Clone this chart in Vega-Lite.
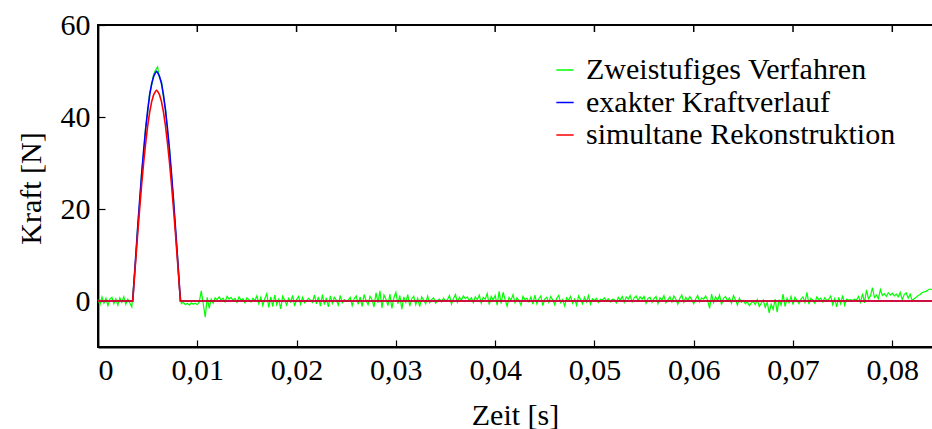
{
  "$schema": "https://vega.github.io/schema/vega-lite/v6.json",
  "width": 836,
  "height": 322,
  "autosize": {"type": "none"},
  "padding": {"left": 98, "top": 25, "right": 0, "bottom": 82},
  "background": "white",
  "config": {
    "view": {"stroke": "black", "strokeWidth": 2},
    "font": "Liberation Serif",
    "axis": {
      "labelFont": "Liberation Serif",
      "titleFont": "Liberation Serif",
      "labelFontSize": 30,
      "titleFontSize": 30,
      "titleFontWeight": "normal",
      "labelColor": "black",
      "titleColor": "black",
      "domainColor": "black",
      "domainWidth": 1.8,
      "tickColor": "black",
      "tickWidth": 1.2,
      "tickSize": -7,
      "grid": false
    }
  },
  "datasets": {
    "topticks": [{"t":0.01},{"t":0.02},{"t":0.03},{"t":0.04},{"t":0.05},{"t":0.06},{"t":0.07},{"t":0.08}],
    "green": [
      {"t":0.0000,"f":0.3},{"t":0.0002,"f":-0.8},{"t":0.0004,"f":0.9},{"t":0.0006,"f":-0.5},{"t":0.0008,"f":0.6},{"t":0.0010,"f":-1.0},{"t":0.0012,"f":0.4},{"t":0.0014,"f":0.8},{"t":0.0016,"f":-0.6},{"t":0.0018,"f":0.5},
      {"t":0.0020,"f":-0.9},{"t":0.0022,"f":0.7},{"t":0.0024,"f":-0.3},{"t":0.0026,"f":0.9},{"t":0.0028,"f":-0.7},{"t":0.0030,"f":0.4},{"t":0.0032,"f":-0.4},{"t":0.0034,"f":-1.3},{"t":0.0036,"f":3.8},{"t":0.0038,"f":9.2},
      {"t":0.0040,"f":16.5},{"t":0.0042,"f":21.4},{"t":0.0044,"f":28.3},{"t":0.0046,"f":32.2},{"t":0.0048,"f":37.9},{"t":0.0050,"f":41.0},{"t":0.0052,"f":45.3},{"t":0.0054,"f":46.8},{"t":0.0056,"f":49.3},{"t":0.0058,"f":50.2},
      {"t":0.0060,"f":50.9},{"t":0.0062,"f":48.4},{"t":0.0064,"f":47.8},{"t":0.0066,"f":44.2},{"t":0.0068,"f":41.9},{"t":0.0070,"f":37.0},{"t":0.0072,"f":33.4},{"t":0.0074,"f":27.2},{"t":0.0076,"f":22.5},{"t":0.0078,"f":15.6},
      {"t":0.0080,"f":10.2},{"t":0.0082,"f":2.8},{"t":0.0084,"f":-0.6},{"t":0.0086,"f":-0.3},{"t":0.0088,"f":-0.8},{"t":0.0090,"f":-0.5},{"t":0.0092,"f":-0.9},{"t":0.0094,"f":-0.4},{"t":0.0096,"f":-0.7},{"t":0.0098,"f":-0.5},
      {"t":0.0100,"f":-0.8},{"t":0.0102,"f":-0.2},{"t":0.0104,"f":2.2},{"t":0.0106,"f":-0.6},{"t":0.0108,"f":-3.5},{"t":0.0110,"f":0.8},{"t":0.0112,"f":-1.6},{"t":0.0114,"f":0.4},{"t":0.0116,"f":-0.5},{"t":0.0118,"f":0.7},
      {"t":0.0120,"f":0.3},{"t":0.0122,"f":0.9},{"t":0.0124,"f":0.2},{"t":0.0126,"f":0.6},{"t":0.0128,"f":-0.2},{"t":0.0130,"f":1.0},{"t":0.0132,"f":0.4},{"t":0.0134,"f":0.8},{"t":0.0136,"f":0.1},{"t":0.0138,"f":0.6},
      {"t":0.0140,"f":-0.3},{"t":0.0142,"f":0.9},{"t":0.0144,"f":0.2},{"t":0.0146,"f":0.5},{"t":0.0148,"f":-0.4},{"t":0.0150,"f":0.7},{"t":0.0152,"f":0.3},{"t":0.0154,"f":-0.2},{"t":0.0156,"f":0.6},{"t":0.0158,"f":0.1},
      {"t":0.0160,"f":1.1},{"t":0.0162,"f":-0.6},{"t":0.0164,"f":0.8},{"t":0.0166,"f":-1.0},{"t":0.0168,"f":0.5},{"t":0.0170,"f":1.6},{"t":0.0172,"f":-1.4},{"t":0.0174,"f":0.9},{"t":0.0176,"f":-1.2},{"t":0.0178,"f":1.3},
      {"t":0.0180,"f":-0.8},{"t":0.0182,"f":0.4},{"t":0.0184,"f":-1.7},{"t":0.0186,"f":1.0},{"t":0.0188,"f":0.2},{"t":0.0190,"f":-0.9},{"t":0.0192,"f":0.6},{"t":0.0194,"f":-0.2},{"t":0.0196,"f":1.2},{"t":0.0198,"f":-1.1},
      {"t":0.0200,"f":0.3},{"t":0.0202,"f":1.0},{"t":0.0204,"f":-0.7},{"t":0.0206,"f":0.8},{"t":0.0208,"f":-0.4},{"t":0.0210,"f":0.1},{"t":0.0212,"f":0.6},{"t":0.0214,"f":0.2},{"t":0.0216,"f":-0.3},{"t":0.0218,"f":1.3},
      {"t":0.0220,"f":-0.6},{"t":0.0222,"f":0.9},{"t":0.0224,"f":-1.1},{"t":0.0226,"f":1.4},{"t":0.0228,"f":-0.8},{"t":0.0230,"f":0.7},{"t":0.0232,"f":-1.3},{"t":0.0234,"f":1.1},{"t":0.0236,"f":-0.5},{"t":0.0238,"f":0.8},
      {"t":0.0240,"f":0.2},{"t":0.0242,"f":-0.9},{"t":0.0244,"f":1.2},{"t":0.0246,"f":-0.4},{"t":0.0248,"f":0.3},{"t":0.0250,"f":-0.1},{"t":0.0252,"f":0.2},{"t":0.0254,"f":0.8},{"t":0.0256,"f":-1.0},{"t":0.0258,"f":0.5},
      {"t":0.0260,"f":1.1},{"t":0.0262,"f":-0.7},{"t":0.0264,"f":0.9},{"t":0.0266,"f":-1.2},{"t":0.0268,"f":1.4},{"t":0.0270,"f":0.1},{"t":0.0272,"f":-0.8},{"t":0.0274,"f":1.0},{"t":0.0276,"f":0.3},{"t":0.0278,"f":-1.3},
      {"t":0.0280,"f":1.8},{"t":0.0282,"f":-0.4},{"t":0.0284,"f":2.2},{"t":0.0286,"f":-1.5},{"t":0.0288,"f":1.3},{"t":0.0290,"f":0.4},{"t":0.0292,"f":-1.0},{"t":0.0294,"f":1.5},{"t":0.0296,"f":-1.6},{"t":0.0298,"f":0.7},
      {"t":0.0300,"f":1.9},{"t":0.0302,"f":-0.6},{"t":0.0304,"f":1.2},{"t":0.0306,"f":-1.8},{"t":0.0308,"f":0.9},{"t":0.0310,"f":-0.3},{"t":0.0312,"f":1.4},{"t":0.0314,"f":-1.1},{"t":0.0316,"f":0.5},{"t":0.0318,"f":1.0},
      {"t":0.0320,"f":-0.8},{"t":0.0322,"f":0.6},{"t":0.0324,"f":-1.2},{"t":0.0326,"f":0.9},{"t":0.0328,"f":0.2},{"t":0.0330,"f":-0.6},{"t":0.0332,"f":1.1},{"t":0.0334,"f":-0.4},{"t":0.0336,"f":0.3},{"t":0.0338,"f":0.7},
      {"t":0.0340,"f":-0.5},{"t":0.0342,"f":0.1},{"t":0.0344,"f":0.4},{"t":0.0346,"f":-0.2},{"t":0.0348,"f":0.6},{"t":0.0350,"f":0.0},{"t":0.0352,"f":0.3},{"t":0.0354,"f":1.2},{"t":0.0356,"f":-0.7},{"t":0.0358,"f":0.5},
      {"t":0.0360,"f":1.4},{"t":0.0362,"f":-0.3},{"t":0.0364,"f":0.8},{"t":0.0366,"f":0.2},{"t":0.0368,"f":1.1},{"t":0.0370,"f":0.5},{"t":0.0372,"f":0.9},{"t":0.0374,"f":0.1},{"t":0.0376,"f":0.7},{"t":0.0378,"f":-0.4},
      {"t":0.0380,"f":0.9},{"t":0.0382,"f":0.3},{"t":0.0384,"f":1.3},{"t":0.0386,"f":-0.5},{"t":0.0388,"f":0.8},{"t":0.0390,"f":0.4},{"t":0.0392,"f":1.6},{"t":0.0394,"f":-0.8},{"t":0.0396,"f":1.0},{"t":0.0398,"f":0.2},
      {"t":0.0400,"f":1.2},{"t":0.0402,"f":-0.9},{"t":0.0404,"f":2.1},{"t":0.0406,"f":-0.6},{"t":0.0408,"f":1.9},{"t":0.0410,"f":0.3},{"t":0.0412,"f":-1.1},{"t":0.0414,"f":0.8},{"t":0.0416,"f":0.2},{"t":0.0418,"f":1.4},
      {"t":0.0420,"f":-0.4},{"t":0.0422,"f":0.7},{"t":0.0424,"f":0.1},{"t":0.0426,"f":-0.9},{"t":0.0428,"f":1.0},{"t":0.0430,"f":0.3},{"t":0.0432,"f":0.6},{"t":0.0434,"f":-0.2},{"t":0.0436,"f":0.9},{"t":0.0438,"f":-0.7},
      {"t":0.0440,"f":1.3},{"t":0.0442,"f":-0.6},{"t":0.0444,"f":0.5},{"t":0.0446,"f":1.1},{"t":0.0448,"f":-1.0},{"t":0.0450,"f":0.4},{"t":0.0452,"f":0.8},{"t":0.0454,"f":-0.3},{"t":0.0456,"f":1.0},{"t":0.0458,"f":0.2},
      {"t":0.0460,"f":-0.8},{"t":0.0462,"f":0.6},{"t":0.0464,"f":1.2},{"t":0.0466,"f":-0.4},{"t":0.0468,"f":0.3},{"t":0.0470,"f":-1.1},{"t":0.0472,"f":0.7},{"t":0.0474,"f":0.2},{"t":0.0476,"f":1.0},{"t":0.0478,"f":-0.5},
      {"t":0.0480,"f":0.4},{"t":0.0482,"f":-0.9},{"t":0.0484,"f":1.1},{"t":0.0486,"f":0.3},{"t":0.0488,"f":-0.6},{"t":0.0490,"f":0.8},{"t":0.0492,"f":-0.2},{"t":0.0494,"f":1.2},{"t":0.0496,"f":-0.7},{"t":0.0498,"f":0.5},
      {"t":0.0500,"f":0.1},{"t":0.0502,"f":0.6},{"t":0.0504,"f":-0.3},{"t":0.0506,"f":0.4},{"t":0.0508,"f":0.2},{"t":0.0510,"f":0.7},{"t":0.0512,"f":0.0},{"t":0.0514,"f":0.5},{"t":0.0516,"f":-0.2},{"t":0.0518,"f":0.4},
      {"t":0.0520,"f":0.3},{"t":0.0522,"f":-0.4},{"t":0.0524,"f":0.8},{"t":0.0526,"f":0.2},{"t":0.0528,"f":1.0},{"t":0.0530,"f":-0.3},{"t":0.0532,"f":0.9},{"t":0.0534,"f":0.4},{"t":0.0536,"f":1.2},{"t":0.0538,"f":-0.2},
      {"t":0.0540,"f":0.7},{"t":0.0542,"f":1.1},{"t":0.0544,"f":0.1},{"t":0.0546,"f":0.9},{"t":0.0548,"f":0.4},{"t":0.0550,"f":1.0},{"t":0.0552,"f":-0.5},{"t":0.0554,"f":0.6},{"t":0.0556,"f":0.8},{"t":0.0558,"f":-0.3},
      {"t":0.0560,"f":0.5},{"t":0.0562,"f":1.0},{"t":0.0564,"f":-0.6},{"t":0.0566,"f":0.7},{"t":0.0568,"f":0.2},{"t":0.0570,"f":1.2},{"t":0.0572,"f":-0.4},{"t":0.0574,"f":0.3},{"t":0.0576,"f":0.9},{"t":0.0578,"f":-0.2},
      {"t":0.0580,"f":1.1},{"t":0.0582,"f":0.4},{"t":0.0584,"f":-0.7},{"t":0.0586,"f":0.6},{"t":0.0588,"f":1.3},{"t":0.0590,"f":-0.3},{"t":0.0592,"f":0.8},{"t":0.0594,"f":0.1},{"t":0.0596,"f":1.0},{"t":0.0598,"f":0.3},
      {"t":0.0600,"f":-0.6},{"t":0.0602,"f":0.5},{"t":0.0604,"f":1.2},{"t":0.0606,"f":-0.2},{"t":0.0608,"f":0.7},{"t":0.0610,"f":0.4},{"t":0.0612,"f":1.1},{"t":0.0614,"f":0.2},{"t":0.0616,"f":-1.6},{"t":0.0618,"f":1.5},
      {"t":0.0620,"f":-0.4},{"t":0.0622,"f":0.9},{"t":0.0624,"f":0.1},{"t":0.0626,"f":1.3},{"t":0.0628,"f":-0.8},{"t":0.0630,"f":0.6},{"t":0.0632,"f":1.0},{"t":0.0634,"f":0.0},{"t":0.0636,"f":0.7},{"t":0.0638,"f":-0.5},
      {"t":0.0640,"f":1.2},{"t":0.0642,"f":0.3},{"t":0.0644,"f":-0.9},{"t":0.0646,"f":0.6},{"t":0.0648,"f":-0.3},{"t":0.0650,"f":0.1},{"t":0.0652,"f":-0.6},{"t":0.0654,"f":-0.2},{"t":0.0656,"f":-1.0},{"t":0.0658,"f":-0.4},
      {"t":0.0660,"f":-0.1},{"t":0.0662,"f":-0.8},{"t":0.0664,"f":0.3},{"t":0.0666,"f":-1.2},{"t":0.0668,"f":-0.5},{"t":0.0670,"f":0.2},{"t":0.0672,"f":-1.4},{"t":0.0674,"f":-0.3},{"t":0.0676,"f":-2.6},{"t":0.0678,"f":-0.7},
      {"t":0.0680,"f":-1.8},{"t":0.0682,"f":0.4},{"t":0.0684,"f":-2.4},{"t":0.0686,"f":0.3},{"t":0.0688,"f":-0.9},{"t":0.0690,"f":1.5},{"t":0.0692,"f":-1.2},{"t":0.0694,"f":0.6},{"t":0.0696,"f":-0.4},{"t":0.0698,"f":1.0},
      {"t":0.0700,"f":-0.8},{"t":0.0702,"f":0.8},{"t":0.0704,"f":0.1},{"t":0.0706,"f":-0.6},{"t":0.0708,"f":0.4},{"t":0.0710,"f":0.9},{"t":0.0712,"f":-0.3},{"t":0.0714,"f":1.9},{"t":0.0716,"f":-0.7},{"t":0.0718,"f":0.6},
      {"t":0.0720,"f":0.2},{"t":0.0722,"f":-0.5},{"t":0.0724,"f":0.9},{"t":0.0726,"f":0.3},{"t":0.0728,"f":0.6},{"t":0.0730,"f":-0.2},{"t":0.0732,"f":0.7},{"t":0.0734,"f":0.1},{"t":0.0736,"f":0.4},{"t":0.0738,"f":1.1},
      {"t":0.0740,"f":-0.8},{"t":0.0742,"f":0.5},{"t":0.0744,"f":-1.3},{"t":0.0746,"f":0.8},{"t":0.0748,"f":-0.6},{"t":0.0750,"f":1.2},{"t":0.0752,"f":-0.9},{"t":0.0754,"f":0.4},{"t":0.0756,"f":0.2},{"t":0.0758,"f":0.3},
      {"t":0.0760,"f":0.1},{"t":0.0762,"f":0.4},{"t":0.0764,"f":0.2},{"t":0.0766,"f":1.0},{"t":0.0768,"f":-0.3},{"t":0.0770,"f":1.6},{"t":0.0772,"f":-0.4},{"t":0.0774,"f":2.4},{"t":0.0776,"f":0.5},{"t":0.0778,"f":1.1},
      {"t":0.0780,"f":2.9},{"t":0.0782,"f":0.8},{"t":0.0784,"f":1.3},{"t":0.0786,"f":0.5},{"t":0.0788,"f":2.5},{"t":0.0790,"f":1.2},{"t":0.0792,"f":1.6},{"t":0.0794,"f":1.0},{"t":0.0796,"f":1.8},{"t":0.0798,"f":1.3},
      {"t":0.0800,"f":1.7},{"t":0.0802,"f":1.1},{"t":0.0804,"f":1.5},{"t":0.0806,"f":0.9},{"t":0.0808,"f":1.9},{"t":0.0810,"f":0.3},{"t":0.0812,"f":1.4},{"t":0.0814,"f":1.8},{"t":0.0816,"f":0.6},{"t":0.0818,"f":1.5},
      {"t":0.0820,"f":0.1},{"t":0.0822,"f":0.5},{"t":0.0824,"f":0.8},{"t":0.0826,"f":1.2},{"t":0.0828,"f":1.4},{"t":0.0830,"f":1.8},{"t":0.0832,"f":2.0},{"t":0.0834,"f":2.1},{"t":0.0836,"f":2.4},{"t":0.0838,"f":2.6},
      {"t":0.0840,"f":2.5},{"t":0.0842,"f":2.7}
    ],
    "exact": [
      {"t":0.0000,"f":0},{"t":0.0035,"f":0},{"t":0.0036,"f":3.3},{"t":0.0038,"f":9.7},{"t":0.0040,"f":16.0},{"t":0.0042,"f":22.0},{"t":0.0044,"f":27.7},{"t":0.0046,"f":32.8},{"t":0.0048,"f":37.4},{"t":0.0050,"f":41.4},{"t":0.0052,"f":44.7},{"t":0.0054,"f":47.2},{"t":0.0056,"f":48.8},{"t":0.0058,"f":49.7},{"t":0.0059,"f":49.9},{"t":0.0060,"f":49.7},{"t":0.0062,"f":48.8},{"t":0.0064,"f":47.2},{"t":0.0066,"f":44.7},{"t":0.0068,"f":41.4},{"t":0.0070,"f":37.4},{"t":0.0072,"f":32.8},{"t":0.0074,"f":27.7},{"t":0.0076,"f":22.0},{"t":0.0078,"f":16.0},{"t":0.0080,"f":9.7},{"t":0.0082,"f":3.3},{"t":0.0083,"f":0},{"t":0.0842,"f":0}
    ],
    "recon": [
      {"t":0.0000,"f":0},{"t":0.0035,"f":0},{"t":0.0036,"f":3.0},{"t":0.0038,"f":8.9},{"t":0.0040,"f":14.7},{"t":0.0042,"f":20.2},{"t":0.0044,"f":25.4},{"t":0.0046,"f":30.1},{"t":0.0048,"f":34.3},{"t":0.0050,"f":38.0},{"t":0.0052,"f":41.0},{"t":0.0054,"f":43.3},{"t":0.0056,"f":44.8},{"t":0.0058,"f":45.6},{"t":0.0059,"f":45.8},{"t":0.0060,"f":45.6},{"t":0.0062,"f":44.8},{"t":0.0064,"f":43.3},{"t":0.0066,"f":41.0},{"t":0.0068,"f":38.0},{"t":0.0070,"f":34.3},{"t":0.0072,"f":30.1},{"t":0.0074,"f":25.4},{"t":0.0076,"f":20.2},{"t":0.0078,"f":14.7},{"t":0.0080,"f":8.9},{"t":0.0082,"f":3.0},{"t":0.0083,"f":0},{"t":0.0842,"f":0}
    ]
  },
  "layer": [
    {
      "data": {"name": "green"},
      "mark": {"type": "line", "strokeWidth": 1.2},
      "encoding": {
        "x": {
          "field": "t", "type": "quantitative",
          "scale": {"domain": [0, 0.0842], "nice": false, "zero": false},
          "axis": {
            "orient": "bottom",
            "title": "Zeit [s]",
            "values": [0, 0.01, 0.02, 0.03, 0.04, 0.05, 0.06, 0.07, 0.08],
            "labelExpr": "datum.value == 0 ? '0' : replace(format(datum.value, '.2f'), '.', ',')",
            "labelPadding": 15,
            "labelBaseline": "top",
            "titleBaseline": "alphabetic",
            "titleY": 77,
            "titleX": 417
          }
        },
        "y": {
          "field": "f", "type": "quantitative",
          "scale": {"domain": [-10, 60], "nice": false, "zero": false},
          "axis": {
            "title": "Kraft [N]",
            "values": [0, 20, 40, 60],
            "labelPadding": 15,
            "titleBaseline": "alphabetic",
            "titleAlign": "center",
            "titleAngle": -90,
            "titleX": -58,
            "titleY": 163
          }
        },
        "color": {
          "datum": "Zweistufiges Verfahren",
          "type": "nominal",
          "scale": {
            "domain": ["Zweistufiges Verfahren", "exakter Kraftverlauf", "simultane Rekonstruktion"],
            "range": ["#00ff00", "#0000ff", "#ff0000"]
          },
          "legend": {
            "title": null,
            "orient": "none",
            "legendX": 452,
            "legendY": 30,
            "symbolType": "stroke",
            "symbolSize": 300,
            "symbolStrokeWidth": 1.5,
            "labelFont": "Liberation Serif",
            "labelFontSize": 30,
            "labelColor": "black",
            "labelOffset": 6,
            "rowPadding": 2.5,
            "labelLimit": 500
          }
        }
      }
    },
    {
      "data": {"name": "exact"},
      "mark": {"type": "line", "strokeWidth": 1.6},
      "encoding": {
        "x": {"field": "t", "type": "quantitative"},
        "y": {"field": "f", "type": "quantitative"},
        "color": {"datum": "exakter Kraftverlauf", "type": "nominal"}
      }
    },
    {
      "data": {"name": "recon"},
      "mark": {"type": "line", "strokeWidth": 1.6},
      "encoding": {
        "x": {"field": "t", "type": "quantitative"},
        "y": {"field": "f", "type": "quantitative"},
        "color": {"datum": "simultane Rekonstruktion", "type": "nominal"}
      }
    },
    {
      "data": {"name": "topticks"},
      "mark": {"type": "rule", "color": "black", "strokeWidth": 1.5},
      "encoding": {
        "x": {"field": "t", "type": "quantitative"},
        "y": {"datum": 60, "type": "quantitative"},
        "y2": {"datum": 58.48}
      }
    }
  ]
}
